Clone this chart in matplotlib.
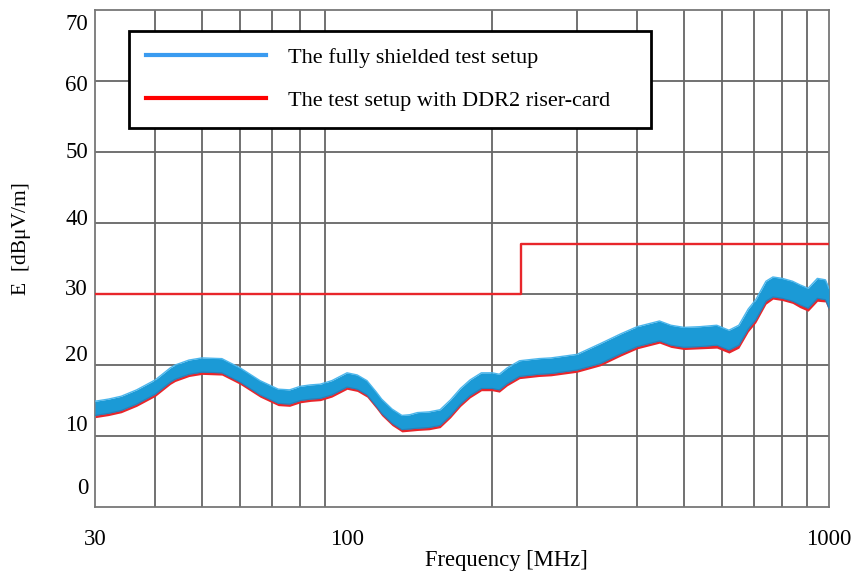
import matplotlib
matplotlib.use("Agg")
import matplotlib.pyplot as plt
import numpy as np

plt.rcParams['font.family'] = ['Liberation Serif', 'DejaVu Serif']

# frequency points [MHz]
freq = [30, 32, 34, 36.6, 40, 43, 44, 47, 50, 55, 60, 66, 72, 76, 80, 84, 88, 93,
        100, 105, 110, 115, 118, 124, 130, 135, 140, 148, 156, 164, 172, 180, 190,
        200, 207, 215, 228, 250, 265, 300, 335, 370, 400, 445, 470, 500, 540, 585,
        620, 650, 680, 705, 740, 765, 800, 840, 870, 905, 946, 983, 1000]

# fully shielded setup (centre of the noisy band) [dBuV/m]
shielded = [13.9, 14.2, 14.6, 15.5, 16.9, 18.6, 19.0, 19.7, 20.0, 19.9, 18.6, 16.8,
            15.6, 15.5, 16.0, 16.2, 16.3, 16.8, 17.9, 17.6, 16.8, 15.2, 14.2, 12.8,
            11.9, 12.0, 12.2, 12.3, 12.6, 14.0, 15.6, 16.8, 17.8, 17.8, 17.6, 18.5,
            19.5, 19.8, 19.9, 20.4, 21.6, 23.0, 24.0, 24.8, 24.2, 23.9, 24.0, 24.2,
            23.5, 24.2, 26.5, 27.8, 30.4, 31.0, 30.8, 30.4, 29.9, 29.4, 30.8, 30.6, 29.4]

# setup with DDR2 riser-card
riser = [13.7, 14.0, 14.4, 15.3, 16.7, 18.4, 18.8, 19.5, 19.8, 19.7, 18.4, 16.6,
         15.4, 15.3, 15.8, 16.0, 16.1, 16.6, 17.7, 17.4, 16.6, 15.0, 14.0, 12.6,
         11.7, 11.8, 12.0, 12.1, 12.4, 13.8, 15.4, 16.6, 17.6, 17.6, 17.4, 18.3,
         19.3, 19.6, 19.7, 20.2, 21.4, 22.8, 23.8, 24.6, 24.0, 23.7, 23.8, 23.9,
         23.2, 23.9, 26.2, 27.5, 30.1, 30.8, 30.6, 30.2, 29.6, 29.1, 30.5, 30.4, 29.1]

# half width of the noise band
spread = [1.0] * 26 + [1.1] * 14 + [1.4] * 21

# limit line
limit_f = [30, 230, 1000]
limit_v = [30, 37, 37]

ytick_vals = [0, 10, 20, 30, 40, 50, 60, 70]
ytick_pos = [2.9, 11.8, 21.7, 31.0, 40.8, 50.3, 59.7, 68.3]
xgrid = [40, 50, 60, 70, 80, 90, 100, 200, 300, 400, 500, 600, 700, 800, 900]

f = np.array(freq)
s = np.array(shielded)
r = np.array(riser)
sp = np.array(spread)

fig = plt.figure(figsize=(8.62, 5.72), dpi=100)
ax = fig.add_axes([0.1102, 0.1136, 0.8515, 0.8689])

ax.fill_between(f, r - sp - 0.12, r + sp - 0.1, color='#e8262b', lw=0, zorder=2)
ax.fill_between(f, s - sp, s + sp, color='#1b9ad6', lw=0, zorder=3)
ax.plot(f, s + sp, color='#4cb6ec', lw=1.0, zorder=3)
ax.plot(f, s - sp, color='#2a7fb8', lw=0.8, zorder=3)
ax.step(limit_f, limit_v, where='post', color='#e8262b', lw=1.7, zorder=4)

# legend handles
h1, = ax.plot([], [], color='#3a9bf0', lw=3)
h2, = ax.plot([], [], color='#ff0000', lw=3)

ax.set_xscale('log')
ax.set_xlim(30, 1000)
ax.set_ylim(0, 70)

ax.set_xticks([30, 100, 1000])
ax.set_xticklabels(['30', '100', '1000'])
ax.set_xticks(xgrid, minor=True)
ax.xaxis.set_minor_formatter(matplotlib.ticker.NullFormatter())
ax.tick_params(axis='x', which='both', length=0, pad=16, labelsize=16.5)

ax.set_yticks(ytick_pos)
ax.set_yticklabels([str(v) for v in ytick_vals])
ax.set_yticks([10, 20, 30, 40, 50, 60], minor=True)
ax.tick_params(axis='y', which='both', length=0, pad=5, labelsize=16.5)

ax.grid(False, which='major')
ax.grid(True, which='minor', color='#666666', lw=1.3)
for sp_ in ax.spines.values():
    sp_.set_color('#777777')
    sp_.set_linewidth(1.3)

ax.set_xlabel('Frequency [MHz]', fontsize=16.3, va='center')
ax.xaxis.set_label_coords(0.56, -0.107)
ax.set_ylabel('E  [dBμV/m]', fontsize=15.5, va='center')
ax.yaxis.set_label_coords(-0.1, 0.54)

leg = ax.legend([h1, h2], ['The fully shielded test setup', 'The test setup with DDR2 riser-card'],
                loc='upper left', bbox_to_anchor=(0.0463, 0.0, 0.711, 0.9577),
                mode='expand', borderaxespad=0, fontsize=16, handlelength=5.4,
                handletextpad=1.0, labelspacing=1.0, borderpad=0.75,
                fancybox=False, framealpha=1)
leg.get_frame().set_edgecolor('black')
leg.get_frame().set_linewidth(2)
leg.set_zorder(10)

fig.savefig('out.png', dpi=100)
